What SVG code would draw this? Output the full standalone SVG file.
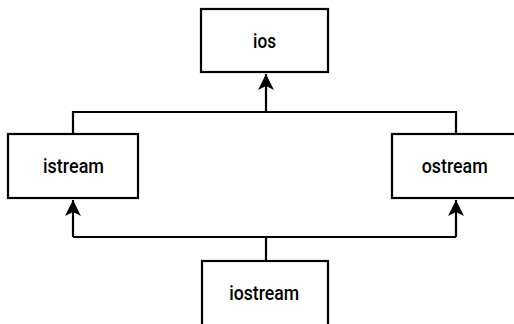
<svg xmlns="http://www.w3.org/2000/svg" width="514" height="324" viewBox="0 0 514 324">
<style>
.box{fill:#fff;stroke:#000;stroke-width:2.2}
.lbl{font-family:Roboto,"Liberation Sans",sans-serif;font-size:20px;font-weight:500;fill:#000;text-anchor:middle}
.ln{fill:none;stroke:#000;stroke-width:2.2}
</style>
<defs>
<marker id="ah" markerWidth="18" markerHeight="16" refX="16" refY="8" orient="auto" markerUnits="userSpaceOnUse">
<path d="M16,8 L0,0 L4,8 L0,16 Z" fill="#000"/>
</marker>
</defs>
<rect width="514" height="324" fill="#fff"/>
<g id="connectors">
<polyline class="ln" points="73,134 73,112 456,112 456,134"/>
<line class="ln" x1="266" y1="112" x2="266" y2="74" marker-end="url(#ah)"/>
<line class="ln" x1="266" y1="261" x2="266" y2="237"/>
<line class="ln" x1="73" y1="237" x2="456" y2="237"/>
<line class="ln" x1="73" y1="237" x2="73" y2="200" marker-end="url(#ah)"/>
<line class="ln" x1="456" y1="237" x2="456" y2="200" marker-end="url(#ah)"/>
</g>
<g id="ios">
<rect class="box" x="201" y="9" width="127" height="63"/>
<text class="lbl" x="264.5" y="48" textLength="23" lengthAdjust="spacingAndGlyphs">ios</text>
</g>
<g id="istream">
<rect class="box" x="8" y="134" width="130" height="64"/>
<text class="lbl" x="73.5" y="173" textLength="61" lengthAdjust="spacingAndGlyphs">istream</text>
</g>
<g id="ostream">
<rect class="box" x="392" y="134" width="130" height="64"/>
<text class="lbl" x="454.7" y="173" textLength="66" lengthAdjust="spacingAndGlyphs">ostream</text>
</g>
<g id="iostream">
<rect class="box" x="202" y="261" width="126" height="70"/>
<text class="lbl" x="264.2" y="300" textLength="70" lengthAdjust="spacingAndGlyphs">iostream</text>
</g>
</svg>
